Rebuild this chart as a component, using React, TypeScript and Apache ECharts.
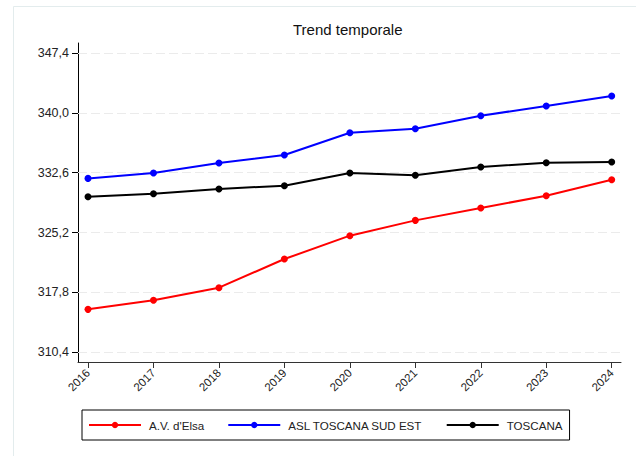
import React, { useEffect, useRef } from "react";
import * as echarts from "echarts";

const years = [2016, 2017, 2018, 2019, 2020, 2021, 2022, 2023, 2024];
const avElsa = [315.71, 316.83, 318.39, 321.93, 324.82, 326.71, 328.24, 329.76, 331.74];
const aslSudEst = [331.9, 332.57, 333.8, 334.79, 337.55, 338.04, 339.65, 340.85, 342.08];
const toscana = [329.64, 330.01, 330.59, 331.0, 332.57, 332.28, 333.31, 333.84, 333.93];
const yTicks = [310.4, 317.8, 325.2, 332.6, 340.0, 347.4];
const seriesNames = ["A.V. d'Elsa", "ASL TOSCANA SUD EST", "TOSCANA"];
const seriesColors = ["#ff0000", "#0000ff", "#000000"];

const FONT = "'Liberation Sans', Arial, Helvetica, sans-serif";

export default function App() {
  const ref = useRef<HTMLDivElement>(null);
  useEffect(() => {
    if (!ref.current) return;
    const chart = echarts.init(ref.current, null, { renderer: "svg" });
    const values = [avElsa, aslSudEst, toscana];
    const lineSeries = seriesNames.map((name, i) => ({
      name,
      type: "line",
      data: years.map((y, j) => [y, values[i][j]]),
      symbol: "circle",
      symbolSize: 7,
      z: 10,
      itemStyle: { color: seriesColors[i] },
      lineStyle: { color: seriesColors[i], width: 2 },
    }));
    chart.setOption({
      animation: false,
      backgroundColor: "#ffffff",
      textStyle: { fontFamily: FONT },
      title: {
        text: "Trend temporale",
        left: 293,
        top: 22,
        padding: 0,
        textStyle: { fontSize: 15, fontWeight: "normal", color: "#111", fontFamily: FONT },
      },
      graphic: [
        {
          type: "rect",
          silent: true,
          shape: { x: 13.5, y: 6.5, width: 700, height: 500 },
          style: { fill: "none", stroke: "#e3eced", lineWidth: 1 },
        },
      ],
      grid: { left: 78, right: 15, top: 43, bottom: 94, containLabel: false },
      xAxis: {
        type: "value",
        min: 2015.847,
        max: 2024.142,
        axisLine: { show: true, lineStyle: { color: "#333", width: 1 } },
        axisTick: { show: true, customValues: years, length: 6, lineStyle: { color: "#333" } },
        axisLabel: {
          customValues: years,
          rotate: 45,
          margin: 9,
          fontSize: 11.5,
          color: "#222",
          fontFamily: FONT,
          formatter: (v: number) => String(Math.round(v)),
        },
        splitLine: { show: false },
      },
      yAxis: {
        type: "value",
        min: 309.2,
        max: 348.64,
        axisLine: { show: true, lineStyle: { color: "#000", width: 1 } },
        axisTick: { show: true, customValues: yTicks, length: 6, lineStyle: { color: "#000" } },
        axisLabel: {
          customValues: yTicks,
          margin: 9,
          fontSize: 12.5,
          color: "#222",
          fontFamily: FONT,
          formatter: (v: number) => v.toFixed(1).replace(".", ","),
        },
        splitLine: { show: false },
      },
      legend: {
        data: seriesNames,
        left: 82,
        top: 410,
        orient: "horizontal",
        padding: [9, 7, 9, 6],
        borderColor: "#000",
        borderWidth: 1,
        itemWidth: 52,
        itemHeight: 8,
        itemGap: 23,
        textStyle: { fontSize: 11.6, color: "#222", fontFamily: FONT, padding: [0, 0, 0, 3] },
      },
      series: [
        {
          name: "_grid",
          type: "line",
          data: [],
          z: 1,
          silent: true,
          markLine: {
            silent: true,
            z: 1,
            symbol: "none",
            label: { show: false },
            lineStyle: { color: "#ebebeb", width: 1, type: [9, 4] },
            data: yTicks.map((t) => ({ yAxis: t })),
          },
        },
        ...lineSeries,
      ],
    });
    return () => chart.dispose();
  }, []);
  return (
    <div
      ref={ref}
      style={{ position: "fixed", left: 0, top: 0, width: 636, height: 456, background: "#fff" }}
    />
  );
}
